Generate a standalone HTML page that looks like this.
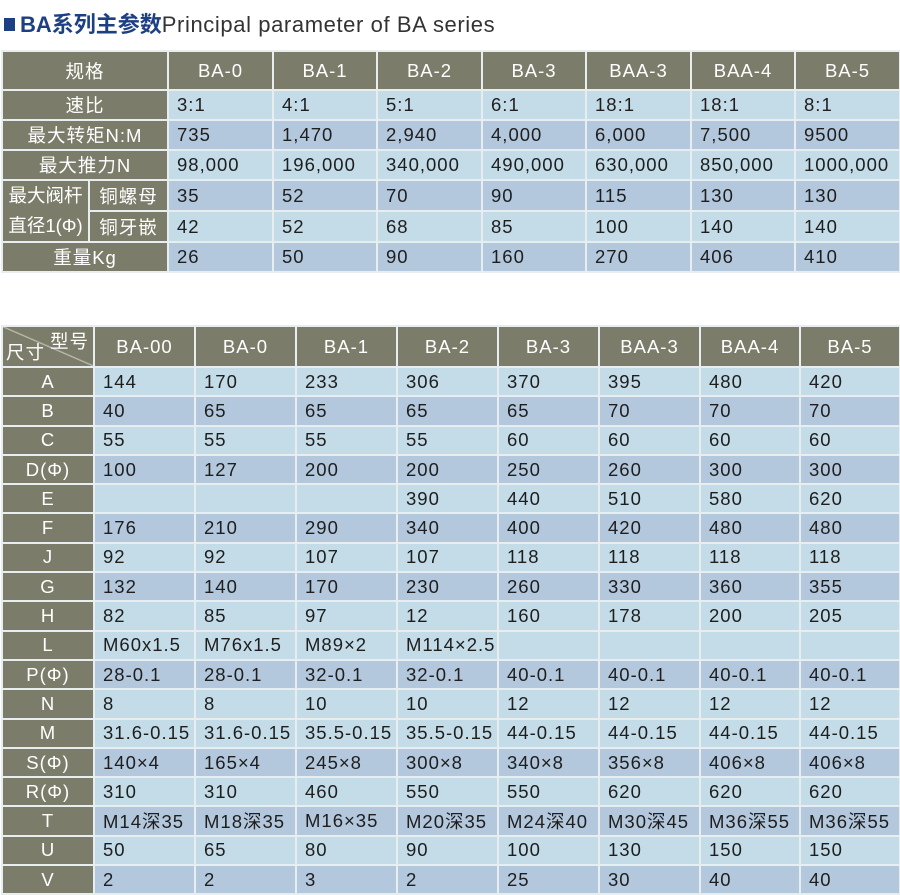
<!DOCTYPE html>
<html><head><meta charset="utf-8"><style>
body{margin:0;width:900px;height:894px;background:#fff;position:relative;overflow:hidden;font-family:"Liberation Sans","Noto Sans CJK SC",sans-serif;}
.title{position:absolute;left:4px;top:7px;font-size:22px;white-space:nowrap;}
.title .sq{display:inline-block;width:11px;height:13px;background:#1d3f84;margin-right:5px;vertical-align:1px}
.title b{color:#1d3f84}
.title span{color:#333;letter-spacing:.6px}
table{position:absolute;border-collapse:collapse;table-layout:fixed;font-size:18.5px;letter-spacing:1px}
td{border:2px solid #e8eef0;padding:0 0 0 8px;color:#1e1e1e;white-space:nowrap;overflow:hidden;background:#c4dce8}
tr.d td{background:#b4c8dd}
td.h,tr.d td.h{background:#7b7d6a;color:#fff;text-align:center;padding:0}
tr.hd td{background:#7b7d6a;color:#fff;text-align:center;padding:0}
</style></head><body>
<div class="title"><span class="sq"></span><b>BA系列主参数</b><span>Principal parameter of BA series</span></div>
<table style="left:1px;top:50px;width:898px">
<colgroup><col style="width:87px"><col style="width:79px"><col style="width:105px"><col style="width:104px"><col style="width:105px"><col style="width:104px"><col style="width:105px"><col style="width:104px"><col style="width:105px"></colgroup>
<tr class="hd" style="height:39px"><td colspan="2">规格</td><td>BA-0</td><td>BA-1</td><td>BA-2</td><td>BA-3</td><td>BAA-3</td><td>BAA-4</td><td>BA-5</td></tr>
<tr style="height:30px"><td class="h" colspan="2">速比</td><td>3:1</td><td>4:1</td><td>5:1</td><td>6:1</td><td>18:1</td><td>18:1</td><td>8:1</td></tr>
<tr class="d" style="height:30px"><td class="h" colspan="2">最大转矩N:M</td><td>735</td><td>1,470</td><td>2,940</td><td>4,000</td><td>6,000</td><td>7,500</td><td>9500</td></tr>
<tr style="height:30px"><td class="h" colspan="2">最大推力N</td><td>98,000</td><td>196,000</td><td>340,000</td><td>490,000</td><td>630,000</td><td>850,000</td><td>1000,000</td></tr>
<tr class="d" style="height:30px"><td class="h" rowspan="2" style="line-height:30px;letter-spacing:0">最大阀杆<br>直径1(Φ)</td><td class="h">铜螺母</td><td>35</td><td>52</td><td>70</td><td>90</td><td>115</td><td>130</td><td>130</td></tr>
<tr style="height:30px"><td class="h">铜牙嵌</td><td>42</td><td>52</td><td>68</td><td>85</td><td>100</td><td>140</td><td>140</td></tr>
<tr class="d" style="height:30px"><td class="h" colspan="2">重量Kg</td><td>26</td><td>50</td><td>90</td><td>160</td><td>270</td><td>406</td><td>410</td></tr>
</table>
<table style="left:1px;top:325px;width:898px">
<colgroup><col style="width:92px"><col style="width:101px"><col style="width:101px"><col style="width:101px"><col style="width:101px"><col style="width:101px"><col style="width:101px"><col style="width:100px"><col style="width:100px"></colgroup>
<tr class="hd" style="height:41px"><td style="position:relative;background:linear-gradient(to top right,#7b7d6a 49%,#c9c9bb 50%,#7b7d6a 52%)"><span style="position:absolute;right:4px;top:1px">型号</span><span style="position:absolute;left:3px;bottom:1px">尺寸</span></td><td>BA-00</td><td>BA-0</td><td>BA-1</td><td>BA-2</td><td>BA-3</td><td>BAA-3</td><td>BAA-4</td><td>BA-5</td></tr>
<tr style="height:29.3px"><td class="h">A</td><td>144</td><td>170</td><td>233</td><td>306</td><td>370</td><td>395</td><td>480</td><td>420</td></tr>
<tr class="d" style="height:29.3px"><td class="h">B</td><td>40</td><td>65</td><td>65</td><td>65</td><td>65</td><td>70</td><td>70</td><td>70</td></tr>
<tr style="height:29.3px"><td class="h">C</td><td>55</td><td>55</td><td>55</td><td>55</td><td>60</td><td>60</td><td>60</td><td>60</td></tr>
<tr class="d" style="height:29.3px"><td class="h">D(Φ)</td><td>100</td><td>127</td><td>200</td><td>200</td><td>250</td><td>260</td><td>300</td><td>300</td></tr>
<tr style="height:29.3px"><td class="h">E</td><td></td><td></td><td></td><td>390</td><td>440</td><td>510</td><td>580</td><td>620</td></tr>
<tr class="d" style="height:29.3px"><td class="h">F</td><td>176</td><td>210</td><td>290</td><td>340</td><td>400</td><td>420</td><td>480</td><td>480</td></tr>
<tr style="height:29.3px"><td class="h">J</td><td>92</td><td>92</td><td>107</td><td>107</td><td>118</td><td>118</td><td>118</td><td>118</td></tr>
<tr class="d" style="height:29.3px"><td class="h">G</td><td>132</td><td>140</td><td>170</td><td>230</td><td>260</td><td>330</td><td>360</td><td>355</td></tr>
<tr style="height:29.3px"><td class="h">H</td><td>82</td><td>85</td><td>97</td><td>12</td><td>160</td><td>178</td><td>200</td><td>205</td></tr>
<tr style="height:29.3px"><td class="h">L</td><td>M60x1.5</td><td>M76x1.5</td><td>M89×2</td><td>M114×2.5</td><td></td><td></td><td></td><td></td></tr>
<tr class="d" style="height:29.3px"><td class="h">P(Φ)</td><td>28-0.1</td><td>28-0.1</td><td>32-0.1</td><td>32-0.1</td><td>40-0.1</td><td>40-0.1</td><td>40-0.1</td><td>40-0.1</td></tr>
<tr style="height:29.3px"><td class="h">N</td><td>8</td><td>8</td><td>10</td><td>10</td><td>12</td><td>12</td><td>12</td><td>12</td></tr>
<tr style="height:29.3px"><td class="h">M</td><td>31.6-0.15</td><td>31.6-0.15</td><td>35.5-0.15</td><td>35.5-0.15</td><td>44-0.15</td><td>44-0.15</td><td>44-0.15</td><td>44-0.15</td></tr>
<tr class="d" style="height:29.3px"><td class="h">S(Φ)</td><td>140×4</td><td>165×4</td><td>245×8</td><td>300×8</td><td>340×8</td><td>356×8</td><td>406×8</td><td>406×8</td></tr>
<tr style="height:29.3px"><td class="h">R(Φ)</td><td>310</td><td>310</td><td>460</td><td>550</td><td>550</td><td>620</td><td>620</td><td>620</td></tr>
<tr class="d" style="height:29.3px"><td class="h">T</td><td>M14深35</td><td>M18深35</td><td>M16×35</td><td>M20深35</td><td>M24深40</td><td>M30深45</td><td>M36深55</td><td>M36深55</td></tr>
<tr style="height:29.3px"><td class="h">U</td><td>50</td><td>65</td><td>80</td><td>90</td><td>100</td><td>130</td><td>150</td><td>150</td></tr>
<tr class="d" style="height:29.3px"><td class="h">V</td><td>2</td><td>2</td><td>3</td><td>2</td><td>25</td><td>30</td><td>40</td><td>40</td></tr>
</table>
</body></html>
